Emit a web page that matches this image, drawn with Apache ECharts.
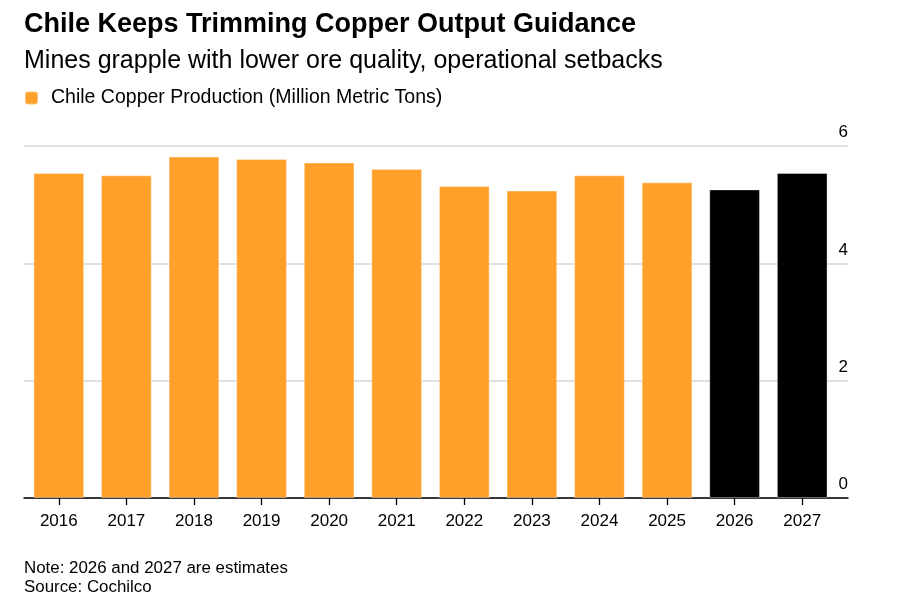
<!DOCTYPE html>
<html>
<head>
  <meta charset="utf-8" />
  <title>Chile Copper Output</title>
  <script src="https://cdn.jsdelivr.net/npm/echarts@6/dist/echarts.min.js"></script>
  <style>
    html, body { margin: 0; padding: 0; background: #fff; }
  </style>
</head>
<body>
<div id="main" style="width: 914px;height:616px;"></div>
<script type="text/javascript">
  // chart data
  var years = ['2016', '2017', '2018', '2019', '2020', '2021', '2022', '2023', '2024', '2025', '2026', '2027'];
  var production = [5.54, 5.50, 5.82, 5.78, 5.72, 5.61, 5.32, 5.24, 5.50, 5.38, 5.26, 5.54];
  var estimateYears = ['2026', '2027'];
  var yMin = 0, yMax = 6, yStep = 2;

  var seriesName = 'Chile Copper Production (Million Metric Tons)';
  var orange = '#ffa02a';
  var font = 'Liberation Sans, Arial, sans-serif';

  var barData = [];
  for (var i = 0; i < years.length; i++) {
    var est = estimateYears.indexOf(years[i]) >= 0;
    barData.push({
      value: production[i],
      itemStyle: { color: est ? '#000000' : orange }
    });
  }

  var myChart = echarts.init(document.getElementById('main'));
  var option = {
    animation: false,
    textStyle: { fontFamily: font },
    title: [
      {
        text: 'Chile Keeps Trimming Copper Output Guidance',
        left: 24, top: 11, padding: 0,
        textStyle: { fontSize: 27, fontWeight: 'bold', color: '#000', fontFamily: font }
      },
      {
        text: 'Mines grapple with lower ore quality, operational setbacks',
        left: 24, top: 49, padding: 0,
        textStyle: { fontSize: 25, fontWeight: 'normal', color: '#000', fontFamily: font }
      },
      {
        text: 'Note: 2026 and 2027 are estimates\nSource: Cochilco',
        left: 24, top: 559, padding: 0,
        textStyle: { fontSize: 16.9, fontWeight: 'normal', color: '#000', lineHeight: 19, fontFamily: font }
      }
    ],
    legend: {
      data: [seriesName],
      left: 24, top: 88, padding: 0,
      icon: 'roundRect',
      itemWidth: 13, itemHeight: 13,
      textStyle: { fontSize: 19.5, color: '#000', padding: [0, 0, 0, 8], fontFamily: font }
    },
    grid: [
      { left: 25, right: 78, top: 146, bottom: 118 },
      { left: 24, right: 66, top: 146, bottom: 118 }
    ],
    xAxis: [
      {
        type: 'category',
        gridIndex: 0,
        data: years,
        axisLine: { show: false },
        axisTick: { show: true, alignWithLabel: true, length: 7, lineStyle: { color: '#000', width: 1.3 } },
        axisLabel: { color: '#000', fontSize: 17, margin: 15, fontFamily: font }
      },
      {
        type: 'value',
        gridIndex: 1,
        min: 0, max: 1,
        axisLine: { show: true, onZero: false, lineStyle: { color: '#000', width: 1.5 } },
        axisTick: { show: false },
        axisLabel: { show: false },
        splitLine: { show: false }
      }
    ],
    yAxis: [
      {
        type: 'value',
        gridIndex: 0,
        min: yMin, max: yMax, interval: yStep,
        show: false
      },
      {
        type: 'value',
        gridIndex: 1,
        position: 'right',
        min: yMin, max: yMax, interval: yStep,
        axisLine: { show: false },
        axisTick: { show: false },
        splitLine: { show: true, lineStyle: { color: '#d6d6d6', width: 1.5 } },
        axisLabel: {
          inside: true, margin: 0,
          align: 'right', verticalAlign: 'bottom',
          padding: [0, 0, 5, 0],
          color: '#000', fontSize: 17, fontFamily: font
        }
      }
    ],
    series: [
      {
        name: seriesName,
        type: 'bar',
        xAxisIndex: 0,
        yAxisIndex: 0,
        barCategoryGap: '25%',
        itemStyle: { color: orange, borderColor: 'rgba(255,255,255,0.35)', borderWidth: 1 },
        data: barData,
        z: 3
      }
    ]
  };

  option && myChart.setOption(option);
</script>
</body>
</html>
